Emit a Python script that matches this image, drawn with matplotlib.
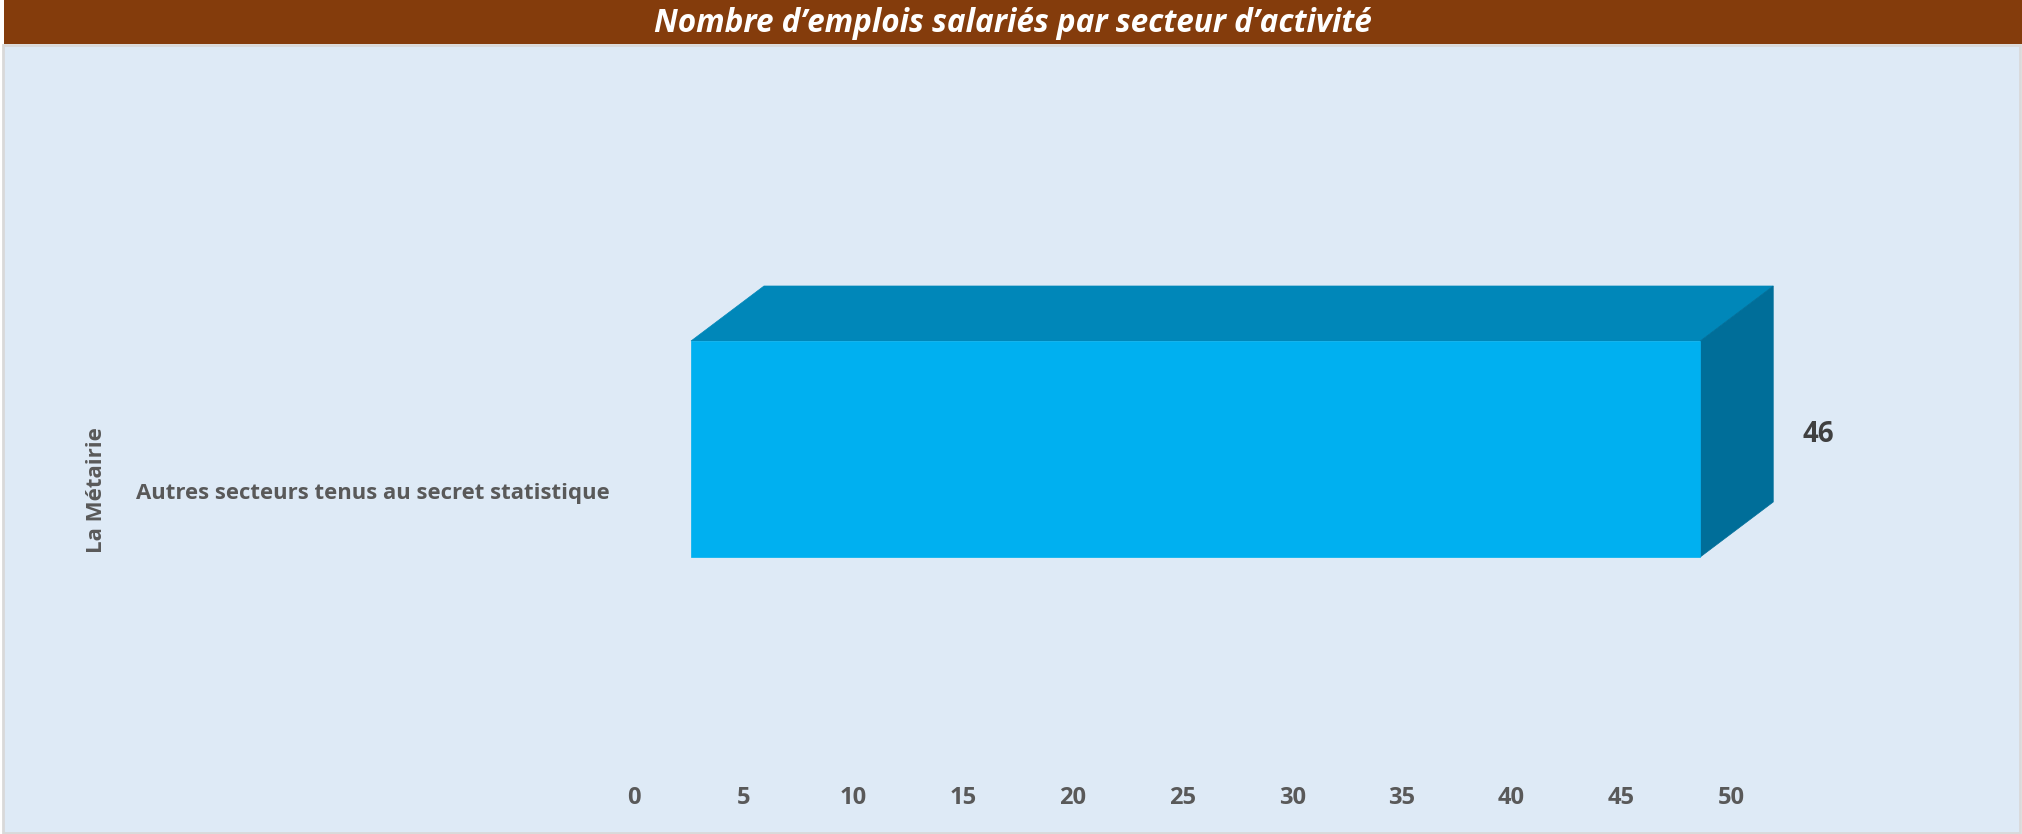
import matplotlib

matplotlib.use("Agg")
import matplotlib.pyplot as plt
import matplotlib.transforms as mtransforms
from matplotlib.patches import Rectangle, Polygon

# data
title = "Nombre d\u2019emplois salariés par secteur d\u2019activité"
group = "La Métairie"
categories = ["Autres secteurs tenus au secret statistique"]
values = [46]
xticks = [0, 5, 10, 15, 20, 25, 30, 35, 40, 45, 50]

W, H, DPI = 2022, 834, 100
FONT = ["Open Sans", "DejaVu Sans"]
TXT = "#595959"
FRONT, TOP, SIDE = "#00B0F0", "#0087B9", "#006E99"

fig = plt.figure(figsize=(W / DPI, H / DPI), dpi=DPI)
fig.patch.set_facecolor("white")

# panel and title band (pixel coordinates, origin top-left)
def box(x0, y0, x1, y1, **kw):
    fig.patches.append(Rectangle((x0 / W, 1 - y1 / H), (x1 - x0) / W, (y1 - y0) / H,
                                 transform=fig.transFigure, zorder=-5, **kw))

box(3, 45, 2020, 833, facecolor="#DEEAF6", edgecolor="#D9D9D9", linewidth=2)
box(4, 0, 2022, 44, facecolor="#843C0C", edgecolor="none")
fig.text(1013 / W, 1 - 23 / H, title, ha="center", va="center", color="white",
         fontsize=22.7, fontweight="bold", fontstyle="italic", family=FONT)

# axes: tick 0 at x=634px, tick 50 at x=1731px; bar centre at y=449px from top
ax_l, ax_r = 634, 1731
ax_h = 600
ax_b = (H - 449) - ax_h / 2
ax = fig.add_axes([ax_l / W, ax_b / H, (ax_r - ax_l) / W, ax_h / H])
ax.set_xlim(0, 50)
ax.set_ylim(-1, 1)
ax.patch.set_alpha(0)
for s in ax.spines.values():
    s.set_visible(False)
ax.set_yticks([])
ax.set_xticks(xticks)
ax.set_xticklabels([str(t) for t in xticks], fontsize=17, fontweight="bold",
                   color=TXT, family=FONT)
ax.tick_params(axis="x", length=0, pad=27)

# 3D bar: front face shifted right, depth offset to the upper right
shift = mtransforms.ScaledTranslation(57 / DPI, 0, fig.dpi_scale_trans)
depth = mtransforms.ScaledTranslation(73 / DPI, 55 / DPI, fig.dpi_scale_trans)
bar_h = 0.72
tf = ax.transData + shift
tb = ax.transData + shift + depth
inv = ax.transData.inverted()
for i, v in enumerate(values):
    y0, y1 = i - bar_h / 2, i + bar_h / 2
    corners = [(0, y0), (v, y0), (v, y1), (0, y1)]
    fb = inv.transform(tf.transform(corners))
    bb = inv.transform(tb.transform(corners))
    ax.add_patch(Polygon([fb[3], fb[2], bb[2], bb[3]], closed=True, clip_on=False,
                         facecolor=TOP, edgecolor=TOP, linewidth=0.5))
    ax.add_patch(Polygon([fb[1], bb[1], bb[2], fb[2]], closed=True, clip_on=False,
                         facecolor=SIDE, edgecolor=SIDE, linewidth=0.5))
    ax.barh(i, v, height=bar_h, left=0, color=FRONT, transform=tf,
            edgecolor=FRONT, linewidth=0.5, clip_on=False)
    ax.annotate(str(v), xy=(v, i), xytext=(159, 15), textcoords="offset pixels",
                ha="left", va="center", fontsize=20, fontweight="bold",
                color="#404040", family=FONT)
    ax.annotate(categories[i], xy=(0, i), xycoords=("axes fraction", "data"),
                xytext=(-24, -44), textcoords="offset pixels", ha="right",
                va="center", fontsize=15.9, fontweight="bold", color=TXT, family=FONT)

fig.text(96 / W, 1 - 490 / H, group, rotation=90, ha="center", va="center",
         fontsize=16, fontweight="bold", color=TXT, family=FONT)

fig.savefig("out.png", dpi=DPI, facecolor=fig.get_facecolor())
